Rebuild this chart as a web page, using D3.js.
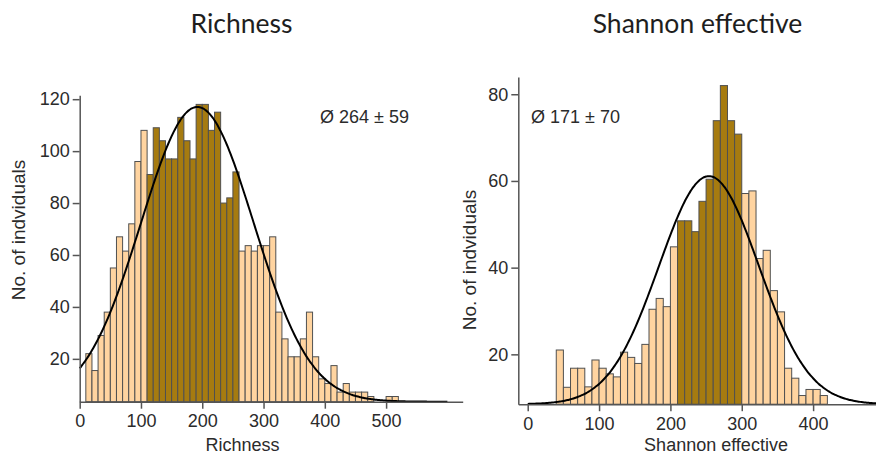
<!DOCTYPE html>
<html><head><meta charset="utf-8">
<script src="https://cdn.jsdelivr.net/npm/d3@7"></script>
<style>html,body{margin:0;padding:0;background:#fff;}svg{display:block;}</style>
</head><body>
<svg id="c" width="876" height="457"></svg>
<script>
// ---- data ----
const titles = ["Richness", "Shannon effective"];
const xLabels = ["Richness", "Shannon effective"];
const yLabel = "No. of indviduals";
const annotations = ["Ø 264 ± 59", "Ø 171 ± 70"];

const binWidth = 10;
const richnessBinStarts = d3.range(10, 520, 10);
const richnessCounts = [22,15.5,29,38,55,67,61.5,72,96,108,91,109,104,97,97,113,104,97,118,118,108,115,80,82,92,61.5,63.6,61.5,63.6,63.6,67,38,27.7,20.8,20.8,27.7,38,20.8,12.3,10.5,17.4,7.2,10.5,7.2,7.2,7.2,5.5,0,0,5.5,5.5];
const richnessDark = [110, 260];

const shannonBinStarts = d3.range(40, 420, 10);
const shannonCounts = [21,12.4,16.8,16.8,12.5,18.7,16.8,15.5,14.8,20.5,19.3,17.9,22.3,30.4,32.9,31,44.8,50.8,50.8,48.3,55.3,60.4,73.9,82,73.9,70.8,57.1,57.7,42.1,44,34.7,29.8,16.8,14.5,10.5,11.9,11.9,10.5];
const shannonDark = [210, 300];

const richnessTicksX = [0,100,200,300,400,500];
const richnessTicksY = [20,40,60,80,100,120];
const shannonTicksX = [0,100,200,300,400];
const shannonTicksY = [20,40,60,80];

// normal curve parameters (mean, sd, amplitude) read from the drawn fit
const richnessFit = {mu:192, sd:92, amp:113.5, from:0, to:600};
const shannonFit = {mu:254, sd:70, amp:52.6, from:0, to:490};

// ---- drawing ----
const svg = d3.select("#c");
const DARK = "#a67b10", LIGHT = "#ffd4a0", BAR_STROKE = "#505050", AXIS = "#555", TXT = "#2b2b2b";

function panel(cfg) {
  const g = svg.append("g");
  const x = d3.scaleLinear().domain(cfg.xDomain).range(cfg.xRange);
  const y = d3.scaleLinear().domain(cfg.yDomain).range(cfg.yRange);
  const data = cfg.starts.map((s, i) => ({s, v: cfg.counts[i]})).filter(d => d.v > 0);

  g.selectAll("rect.bar").data(data).join("rect")
    .attr("class", "bar")
    .attr("x", d => x(d.s))
    .attr("width", d => x(d.s + binWidth) - x(d.s))
    .attr("y", d => y(d.v))
    .attr("height", d => y(cfg.yDomain[0]) - y(d.v))
    .attr("fill", d => (d.s >= cfg.dark[0] && d.s < cfg.dark[1]) ? DARK : LIGHT)
    .attr("stroke", BAR_STROKE).attr("stroke-width", 1);

  const f = cfg.fit, base = cfg.yDomain[0];
  const pts = d3.range(f.from, f.to + 0.5, 2).map(v => [v, base + f.amp * Math.exp(-((v - f.mu) ** 2) / (2 * f.sd * f.sd))]);
  g.append("path").datum(pts)
    .attr("d", d3.line().x(d => x(d[0])).y(d => y(d[1])).curve(d3.curveBasis))
    .attr("fill", "none").attr("stroke", "#000").attr("stroke-width", 2);

  const xa = g.append("g").attr("transform", `translate(0,${y(cfg.yDomain[0])})`)
    .call(d3.axisBottom(x).tickValues(cfg.ticksX).tickSizeInner(7).tickSizeOuter(0).tickPadding(6));
  const ya = g.append("g").attr("transform", `translate(${x(cfg.xDomain[0])},0)`)
    .call(d3.axisLeft(y).tickValues(cfg.ticksY).tickSizeInner(7).tickSizeOuter(0).tickPadding(3));
  [xa, ya].forEach(a => {
    a.selectAll("path").attr("stroke", AXIS).attr("stroke-width", 1.5);
    a.selectAll("line").attr("stroke", AXIS).attr("stroke-width", 1.5);
    a.selectAll("text").attr("fill", TXT).style("font-family", "'Liberation Sans', Arial, sans-serif").style("font-size", "18px");
  });

  g.append("text").text(cfg.title).attr("x", cfg.titleX).attr("y", 33)
    .attr("text-anchor", "middle").attr("fill", "#1e1e1e")
    .style("font-family", "Lato, 'Open Sans', sans-serif").style("font-size", "26.5px");
  g.append("text").text(cfg.xLabel).attr("x", cfg.xLabelX).attr("y", 451)
    .attr("text-anchor", "middle").attr("fill", TXT)
    .style("font-family", "'Liberation Sans', Arial, sans-serif").style("font-size", "18px");
  g.append("text").text(yLabel)
    .attr("transform", `translate(${cfg.yLabelX},${cfg.yLabelY}) rotate(-90)`)
    .attr("text-anchor", "middle").attr("fill", TXT)
    .style("font-family", "'Liberation Sans', Arial, sans-serif").style("font-size", "19px");
  g.append("text").text(cfg.note).attr("x", cfg.noteX).attr("y", 123)
    .attr("fill", TXT)
    .style("font-family", "'Liberation Sans', Arial, sans-serif").style("font-size", "18px");
}

panel({
  xDomain: [0, 625], xRange: [79.7, 462.7],
  yDomain: [3.5, 121.5], yRange: [401.7, 95.3],
  starts: richnessBinStarts, counts: richnessCounts, dark: richnessDark,
  fit: richnessFit, ticksX: richnessTicksX, ticksY: richnessTicksY,
  title: titles[0], titleX: 241.5, xLabel: xLabels[0], xLabelX: 242.5,
  yLabelX: 25, yLabelY: 230, note: annotations[0], noteX: 320
});
panel({
  xDomain: [-13.2, 489], xRange: [518.3, 876.6],
  yDomain: [8.5, 84], yRange: [404.2, 76.9],
  starts: shannonBinStarts, counts: shannonCounts, dark: shannonDark,
  fit: shannonFit, ticksX: shannonTicksX, ticksY: shannonTicksY,
  title: titles[1], titleX: 697.5, xLabel: xLabels[1], xLabelX: 716,
  yLabelX: 476, yLabelY: 260, note: annotations[1], noteX: 531
});
</script>
</body></html>
